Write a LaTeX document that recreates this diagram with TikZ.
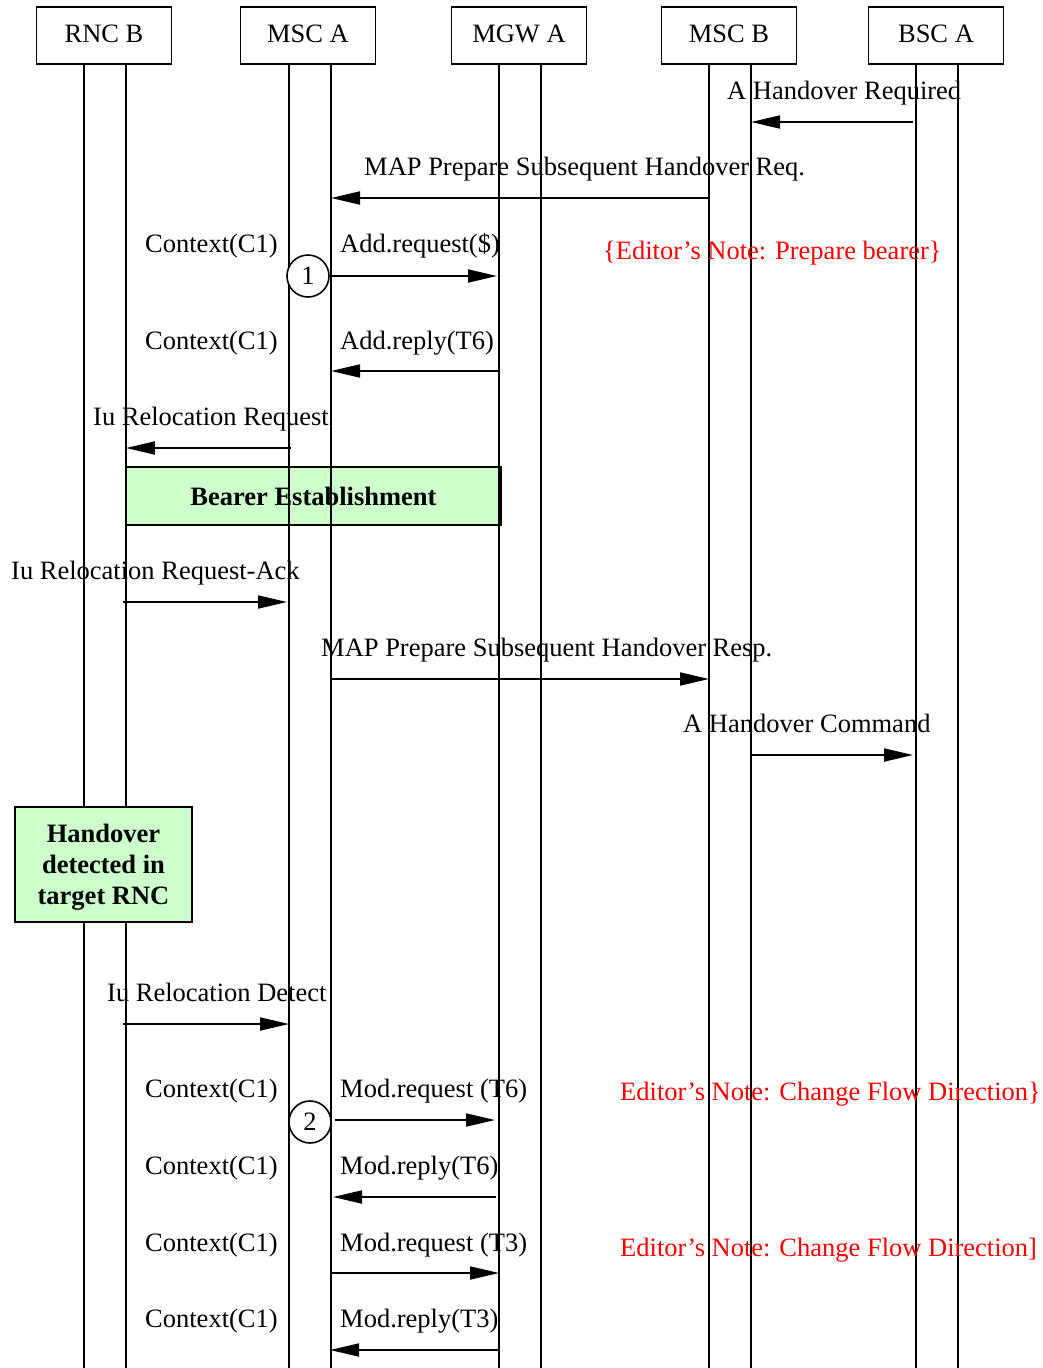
\documentclass[tikz,border=0pt]{standalone}
\usepackage{fontspec}
\setmainfont{Liberation Serif}
\usetikzlibrary{arrows.meta}
\begin{document}
\begin{tikzpicture}[x=1pt,y=-1pt,
  txt/.style={font=\fontsize{26.5}{31}\selectfont, inner sep=0pt},
  lbl/.style={txt, anchor=base west},
  note/.style={lbl, text=red},
  entity/.style={txt, draw, line width=1.8pt, minimum width=135pt, minimum height=57pt},
  life/.style={line width=1.8pt},
  msg/.style={line width=1.8pt, -{Triangle[length=29pt,width=13pt]}},
  phase/.style={txt, draw, line width=1.8pt, fill=green!20, font=\fontsize{26.5}{31}\selectfont\bfseries, align=center},
  stepmark/.style={txt, draw, circle, line width=1.6pt, fill=white, minimum size=42pt}]
\useasboundingbox (0,0) rectangle (1043,1368);
\fill[white] (0,0) rectangle (1043,1368);

% entities
\node[entity] (rncb) at (104,35.5) {\raisebox{2pt}[\height][\depth]{RNC B}};
\node[entity] (msca) at (308,35.5) {\raisebox{2pt}[\height][\depth]{MSC A}};
\node[entity] (mgwa) at (519,35.5) {\raisebox{2pt}[\height][\depth]{MGW A}};
\node[entity] (mscb) at (729,35.5) {\raisebox{2pt}[\height][\depth]{MSC B}};
\node[entity] (bsca) at (936,35.5) {\raisebox{2pt}[\height][\depth]{BSC A}};

% lifeline tops and page bottom
\coordinate (rncbL) at (84,64);  \coordinate (rncbR) at (126,64);
\coordinate (mscaL) at (289,64); \coordinate (mscaR) at (331,64);
\coordinate (mgwaL) at (499,64); \coordinate (mgwaR) at (541,64);
\coordinate (mscbL) at (709,64); \coordinate (mscbR) at (751,64);
\coordinate (bscaL) at (916,64); \coordinate (bscaR) at (958,64);
\coordinate (bottom) at (0,1368);

% bearer establishment (lifelines run across it)
\node[phase, minimum width=375pt, minimum height=58pt] (bearer) at (313.5,496) {Bearer Establishment};

\foreach \l in {rncbL,rncbR,mscaL,mscaR,mgwaL,mgwaR,mscbL,mscbR,bscaL,bscaR}
  \draw[life] (\l) -- (\l |- bottom);

% handover detection covers the RNC B lifelines
\node[phase, minimum width=177pt, minimum height=115pt] (hodet) at (103.5,864.5)
  {\raisebox{-3pt}[\height][\depth]{\begin{tabular}{@{}c@{}}Handover\\detected in\\target RNC\end{tabular}}};

% message rows
\coordinate (r1) at (0,122);
\coordinate (r2) at (0,198);
\coordinate (r3) at (0,276);
\coordinate (r4) at (0,371);
\coordinate (r5) at (0,448);
\coordinate (r7) at (0,602);
\coordinate (r8) at (0,679);
\coordinate (r9) at (0,755);
\coordinate (r11) at (0,1024);
\coordinate (r12) at (0,1120);
\coordinate (r13) at (0,1197);
\coordinate (r14) at (0,1273);
\coordinate (r15) at (0,1350);

% A Handover Required
\node[lbl] (t1) at (727,99) {A Handover Required};
\draw[msg] ([xshift=-3pt]bscaL |- r1) -- (mscbR |- r1);

% MAP Prepare Subsequent Handover Req.
\node[lbl] (t2) at (364,175) {MAP Prepare Subsequent Handover Req.};
\draw[msg] (mscbL |- r2) -- (mscaR |- r2);

% Add.request
\node[lbl] (c3) at (145,252) {Context(C1)};
\node[lbl] (t3) at (340,252) {Add.request(\$)};
\node[note] (n3) at (603,259) {\{Editor’s Note: Prepare bearer\}};
\node[stepmark] (m1) at (308,276) {1};
\draw[msg] (m1.east) -- ([xshift=-2pt]mgwaL |- r3);

% Add.reply
\node[lbl] (c4) at (145,349) {Context(C1)};
\node[lbl] (t4) at (340,349) {Add.reply(T6)};
\draw[msg] (mgwaL |- r4) -- (mscaR |- r4);

% Iu Relocation Request
\node[lbl] (t5) at (93,425) {Iu Relocation Request};
\draw[msg] ([xshift=2pt]mscaL |- r5) -- (rncbR |- r5);

% Iu Relocation Request-Ack
\node[lbl] (t7) at (11,579) {Iu Relocation Request-Ack};
\draw[msg] ([xshift=-3pt]rncbR |- r7) -- ([xshift=-2pt]mscaL |- r7);

% MAP Prepare Subsequent Handover Resp.
\node[lbl] (t8) at (321,656) {MAP Prepare Subsequent Handover Resp.};
\draw[msg] (mscaR |- r8) -- (mscbL |- r8);

% A Handover Command
\node[lbl] (t9) at (683,732) {A Handover Command};
\draw[msg] (mscbR |- r9) -- ([xshift=-3pt]bscaL |- r9);

% Iu Relocation Detect
\node[lbl] (t11) at (107,1001) {Iu Relocation Detect};
\draw[msg] ([xshift=-3pt]rncbR |- r11) -- (mscaL |- r11);

% Mod.request (T6)
\node[lbl] (c12) at (145,1097) {Context(C1)};
\node[lbl] (t12) at (340,1097) {Mod.request (T6)};
\node[note] (n12) at (620,1100) {Editor’s Note: Change Flow Direction\}};
\node[stepmark] (m2) at (310,1122) {2};
\draw[msg] ([xshift=3pt]m2.east |- r12) -- ([xshift=-4pt]mgwaL |- r12);

% Mod.reply (T6)
\node[lbl] (c13) at (145,1174) {Context(C1)};
\node[lbl] (t13) at (340,1174) {Mod.reply(T6)};
\draw[msg] ([xshift=-3pt]mgwaL |- r13) -- ([xshift=2pt]mscaR |- r13);

% Mod.request (T3)
\node[lbl] (c14) at (145,1251) {Context(C1)};
\node[lbl] (t14) at (340,1251) {Mod.request (T3)};
\node[note] (n14) at (620,1256) {Editor’s Note: Change Flow Direction]};
\draw[msg] (mscaR |- r14) -- (mgwaL |- r14);

% Mod.reply (T3)
\node[lbl] (c15) at (145,1327) {Context(C1)};
\node[lbl] (t15) at (340,1327) {Mod.reply(T3)};
\draw[msg] (mgwaL |- r15) -- ([xshift=-1pt]mscaR |- r15);
\end{tikzpicture}
\end{document}
